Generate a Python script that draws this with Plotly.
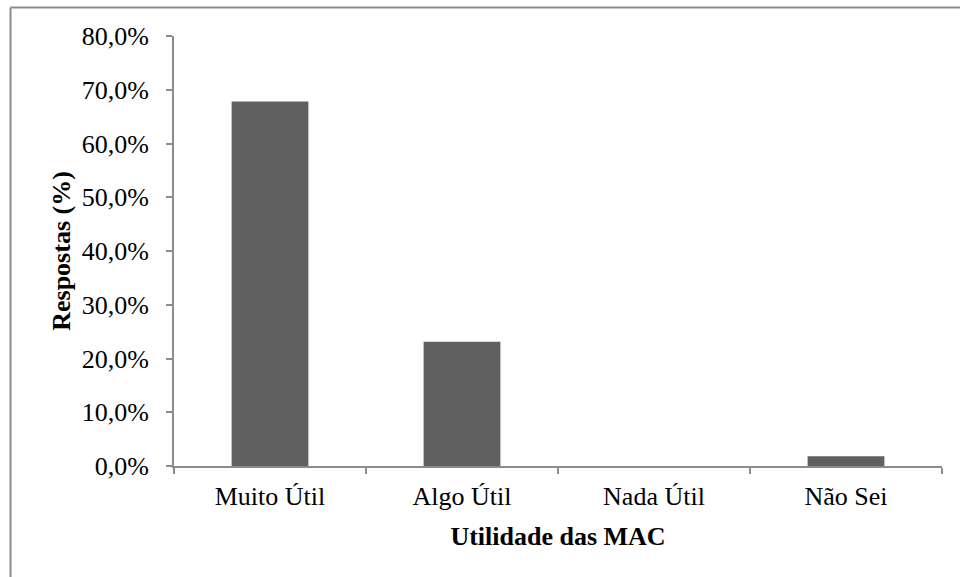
import plotly.graph_objects as go

categories = ["Muito Útil", "Algo Útil", "Nada Útil", "Não Sei"]
values = [67.8, 23.1, 0.0, 1.8]
y_ticks = [0, 10, 20, 30, 40, 50, 60, 70, 80]
y_tick_labels = ["0,0%", "10,0%", "20,0%", "30,0%", "40,0%", "50,0%", "60,0%", "70,0%", "80,0%"]

fig = go.Figure(go.Bar(x=categories, y=values, marker=dict(color="#606060", line=dict(width=0)), width=0.4))

axis_color = "#8c8c8c"
font_family = "Liberation Serif, Times New Roman, serif"
FS = 26

L, R, T, B = 174, 18, 36, 111
PW, PH = 960 - L - R, 577 - T - B

fig.update_layout(
    width=960, height=577,
    margin=dict(l=L, r=R, t=T, b=B),
    paper_bgcolor="white", plot_bgcolor="white",
    font=dict(family=font_family, size=FS, color="black"),
    showlegend=False,
    xaxis=dict(
        showline=True, linecolor=axis_color, linewidth=2,
        ticks="outside", tickson="boundaries", ticklen=6, tickcolor=axis_color, tickwidth=2,
        showgrid=False, tickfont=dict(size=FS), ticklabelstandoff=6,
        title=dict(text="<b>Utilidade das MAC</b>", font=dict(size=FS), standoff=17),
    ),
    yaxis=dict(
        range=[0, 80], tickvals=y_ticks, ticktext=y_tick_labels,
        showline=True, linecolor=axis_color, linewidth=2,
        ticks="outside", ticklen=6, tickcolor=axis_color, tickwidth=2,
        showgrid=False, zeroline=False, tickfont=dict(size=FS), ticklabelstandoff=12,
        title=dict(text="<b>Respostas (%)</b>", font=dict(size=FS), standoff=4),
    ),
    shapes=[
        dict(type="line", xref="paper", yref="paper",
             x0=(10.5 - L) / PW, x1=(970 - L) / PW,
             y0=(577 - B - 7.5) / PH, y1=(577 - B - 7.5) / PH,
             line=dict(color="#8c8c8c", width=2)),
        dict(type="line", xref="paper", yref="paper",
             x0=(10.5 - L) / PW, x1=(10.5 - L) / PW,
             y0=(577 - B - 7.5) / PH, y1=(577 - B - 590) / PH,
             line=dict(color="#8c8c8c", width=2)),
    ],
)

fig.write_html("out.html", config={"displayModeBar": False},
               post_script="document.body.style.margin='0';document.body.style.overflow='hidden';")
